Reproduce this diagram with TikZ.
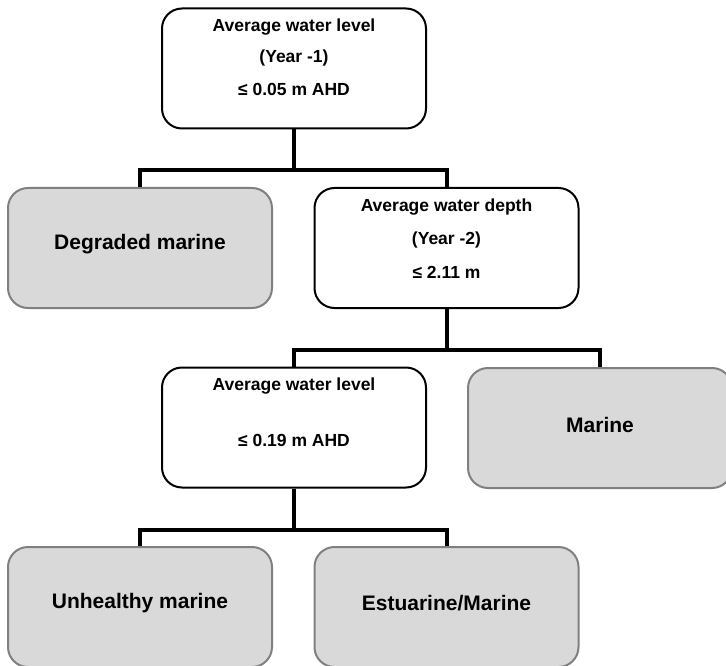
\documentclass[tikz,border=0pt]{standalone}
\usepackage{fontspec}
\setmainfont{Liberation Sans}
\begin{document}
\begin{tikzpicture}[x=1pt,y=-1pt,
  qbox/.style={draw=black,line width=2pt,fill=white,rounded corners=20pt,minimum width=264pt,minimum height=120pt,inner sep=0pt},
  leaf/.style={draw=black!50,line width=2pt,fill=black!15,rounded corners=20pt,minimum width=264pt,minimum height=120pt,inner sep=0pt},
  leaftext/.style={font=\fontsize{21}{24}\selectfont\bfseries,inner sep=0pt},
  small/.style={font=\fontsize{17.5}{20}\selectfont\bfseries},
  conn/.style={line width=4pt,draw=black}]
\useasboundingbox (0,0) rectangle (726,666);
\begin{scope}
\clip (0,0) rectangle (726,666);
% nodes
\node[qbox] (q1) at (294,68.5) {};
\node[small] at (294,27) {Average water level};
\node[small] at (294,58) {(Year -1)};
\node[small] at (294,89) {≤ 0.05 m AHD};

\node[leaf] (dm) at (140,248) {};
\node[leaftext] at ([yshift=3.5pt]dm.center) {Degraded marine};
\node[qbox] (q2) at (446.5,248) {};
\node[small] at (446.5,207) {Average water depth};
\node[small] at (446.5,240) {(Year -2)};
\node[small] at (446.5,272) {≤ 2.11 m};

\node[qbox] (q3) at (294,427.5) {};
\node[small] at (294,386) {Average water level};
\node[small] at (294,440) {≤ 0.19 m AHD};
\node[leaf] (ma) at (600,428) {};
\node[leaftext] at ([yshift=3.5pt]ma.center) {Marine};

\node[leaf] (um) at (140,607) {};
\node[leaftext] at ([yshift=3.5pt]um.center) {Unhealthy marine};
\node[leaf] (em) at (446.5,607) {};
\node[leaftext] at ([yshift=3.5pt]em.center) {Estuarine/Marine};

% connectors
\draw[conn] (q1.south) -- (294,170) coordinate (h1);
\draw[conn] (dm.north) |- (h1) -| (q2.north);
\draw[conn] (q2.south) -- (446.5,350) coordinate (h2);
\draw[conn] (q3.north) |- (h2) -| (ma.north);
\draw[conn] (q3.south) -- (294,530) coordinate (h3);
\draw[conn] (um.north) |- (h3) -| (em.north);
\end{scope}
\end{tikzpicture}
\end{document}
